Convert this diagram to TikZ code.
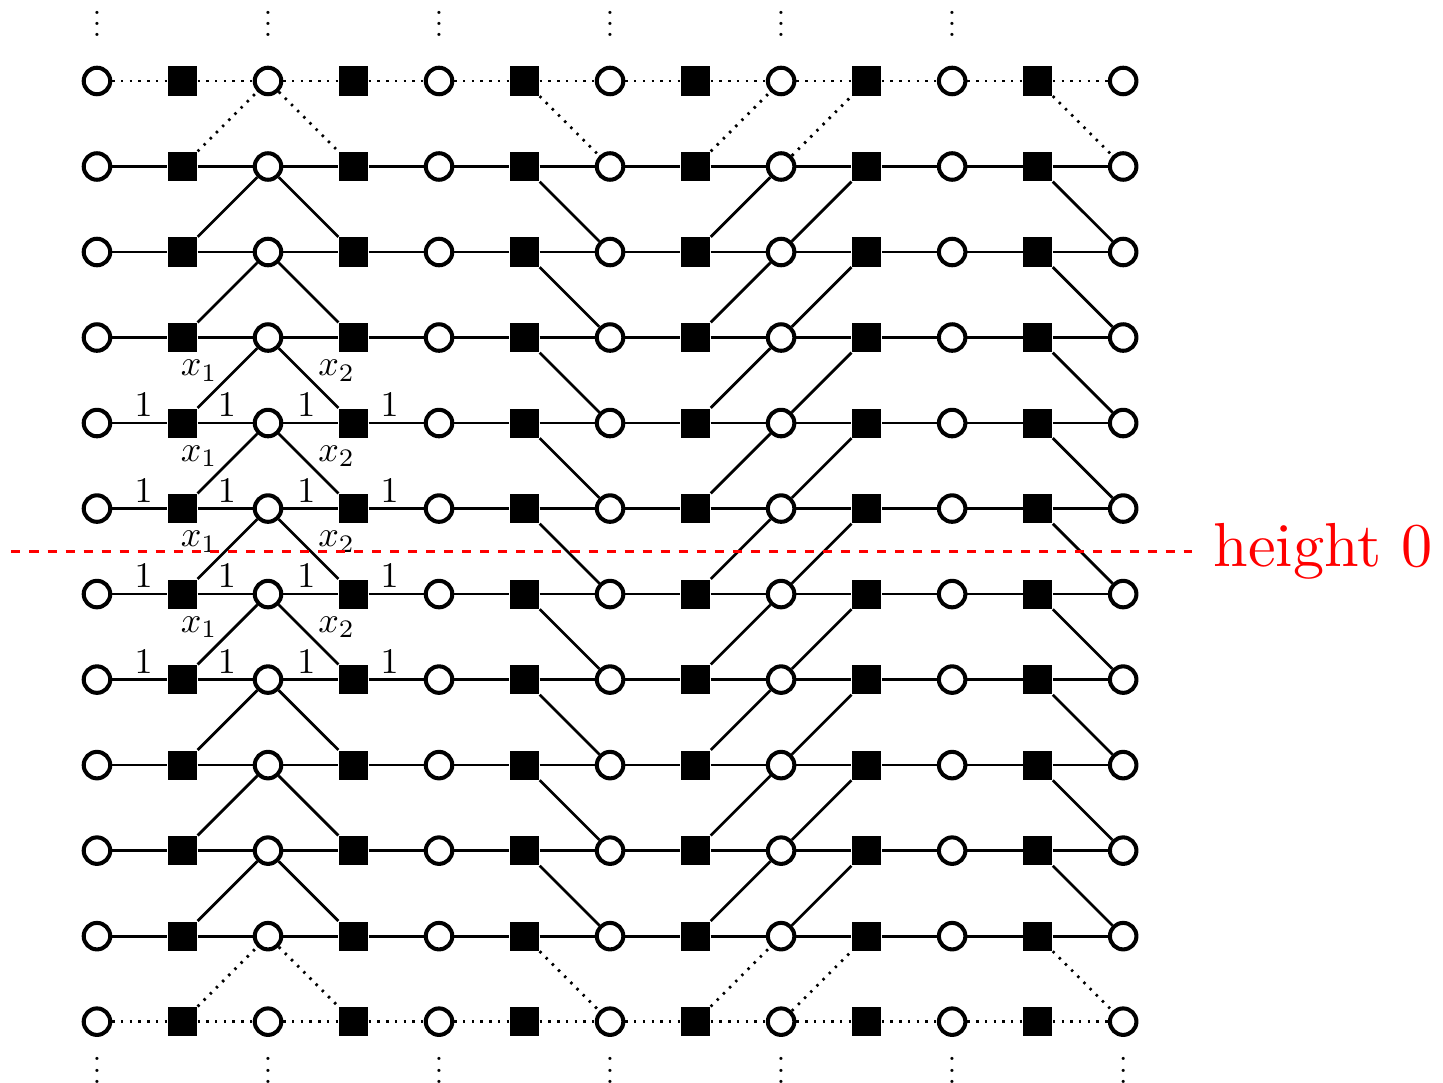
\documentclass[tikz,border=0pt]{standalone}
\usepackage{amsmath,amssymb}
\usepackage{xcolor}
\usepackage{tikz}
\usetikzlibrary{positioning,calc}

% three stacked dots without the extra space on top
\newcommand{\colvdots}{\vbox{\baselineskip=3.7pt \lineskiplimit=0pt \hbox{.}\hbox{.}\hbox{.}}}

\begin{document}
\begin{tikzpicture}[
  vert/.style={draw, circle, line width=1.35pt, fill=white, minimum size=0.31cm, inner sep=0pt},
  fac/.style={rectangle, fill=black, minimum size=0.34cm, inner sep=0pt},
  edg/.style={line width=0.9pt},
  dotedg/.style={line width=0.9pt, dash pattern=on 0.8pt off 2.1pt},
  wt/.style={above, inner sep=1.5pt, scale=1.2},
  xlab/.style={midway, yshift=2.5pt, inner sep=2.5pt, scale=1.2},
  cont/.style={inner sep=0pt},
  heightline/.style={red, line width=0.9pt, dashed}
]
\useasboundingbox (-1.134,-11.71) rectangle (15.74,0.947);
% vertices and factors
\foreach \r in {0,...,11} {
  \foreach \c in {0,2,...,12}
    \node[vert] (v\c-\r) at (\c,-\r) {};
  \foreach \c in {1,3,...,11}
    \node[fac] (v\c-\r) at (\c,-\r) {};
}
% horizontal edges
\foreach \r/\sty in {0/dotedg,1/edg,2/edg,3/edg,4/edg,5/edg,6/edg,7/edg,8/edg,9/edg,10/edg,11/dotedg}
  \foreach \c [count=\n] in {0,...,11}
    \draw[\sty] (v\c-\r) -- (v\n-\r);
% diagonal edges
\foreach \r/\s/\sty in {0/1/dotedg,1/2/edg,2/3/edg,3/4/edg,4/5/edg,5/6/edg,6/7/edg,7/8/edg,8/9/edg,9/10/edg,10/11/dotedg} {
  \draw[\sty] (v1-\s) -- (v2-\r);
  \draw[\sty] (v2-\r) -- (v3-\s);
  \draw[\sty] (v5-\r) -- (v6-\s);
  \draw[\sty] (v7-\s) -- (v8-\r);
  \draw[\sty] (v8-\s) -- (v9-\r);
  \draw[\sty] (v11-\r) -- (v12-\s);
}
% weights
\foreach \r in {4,...,7}
  \foreach \c/\p [count=\n] in {0/0.57,1/0.53,2/0.42,3/0.38}
    \path (v\c-\r) -- (v\n-\r) node[wt, pos=\p] {$1$};
\foreach \r/\s in {3/4,4/5,5/6,6/7} {
  \path (v1-\s) -- (v2-\r) node[xlab, left] {$x_1$};
  \path (v2-\r) -- (v3-\s) node[xlab, right] {$x_2$};
}
% continuation dots
\foreach \c in {0,2,...,10}
  \node[cont] (top\c) at (\c,0.667) {\colvdots};
\foreach \c in {0,2,...,12}
  \node[cont] (bot\c) at (\c,-11.57) {\colvdots};
% height 0
\coordinate (hl) at (-1,-5.5);
\node[right, red, scale=2.07] (hlab) at (12.8,-5.5) {height 0};
\draw[heightline] (hl) -- (hlab.west);
\end{tikzpicture}
\end{document}
